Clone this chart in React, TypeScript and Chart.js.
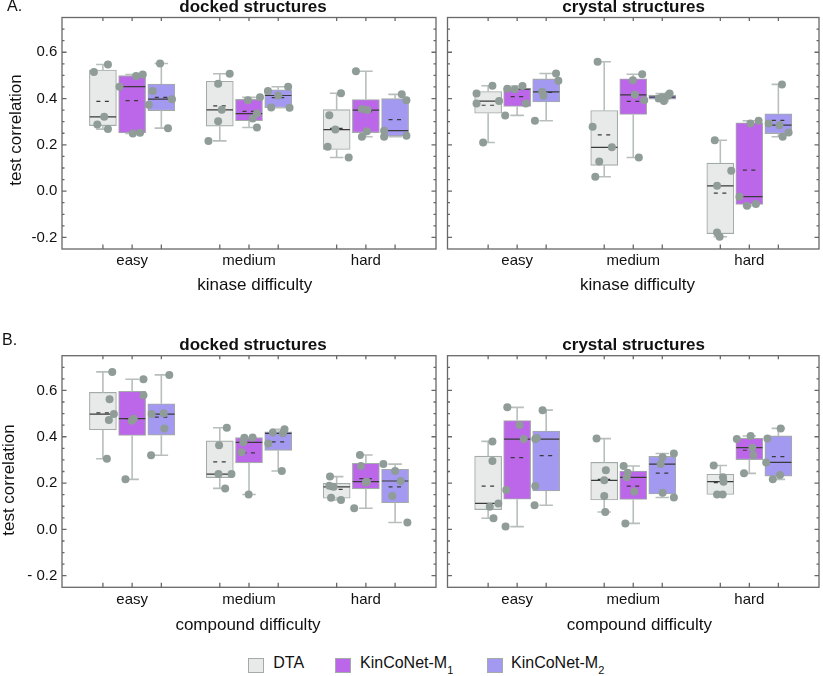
import React, { useEffect, useRef } from 'react';
import { Chart, registerables } from 'chart.js';

Chart.register(...registerables);

const FONT = "'Liberation Sans', Arial, Helvetica, sans-serif";

// ---------- data ----------
const kinaseCategories = ['easy', 'medium', 'hard'];
const compoundCategories = ['easy', 'medium', 'hard'];
const modelNames = ['DTA', 'KinCoNet-M1', 'KinCoNet-M2'];
const modelOffsets = [-0.25, 0, 0.25];
const yTickValues = [-0.2, 0, 0.2, 0.4, 0.6];
const yTickLabelsA = ['-0.2', '0.0', '0.2', '0.4', '0.6'];
const yTickLabelsB = ['- 0.2', '0.0', '0.2', '0.4', '0.6'];

// A. kinase difficulty, docked structures (5 folds per box) [easy, medium, hard]
const kinDockDTA = [[0.515, 0.547, 0.321, 0.288, 0.268], [0.464, 0.507, 0.351, 0.302, 0.217], [0.423, 0.328, 0.266, 0.192, 0.145]];
const kinDockM1 = [[0.451, 0.497, 0.504, 0.249, 0.252], [0.393, 0.405, 0.335, 0.314, 0.275], [0.518, 0.355, 0.350, 0.259, 0.235]];
const kinDockM2 = [[0.551, 0.433, 0.373, 0.397, 0.272], [0.433, 0.451, 0.413, 0.361, 0.360], [0.418, 0.393, 0.261, 0.235, 0.239]];
const kinDockDTAJitter = [[-0.077, 0.043, 0.011, -0.048, 0.043], [-0.014, 0.085, 0.017, -0.014, -0.097], [0.037, -0.063, -0.011, -0.077, 0.103]];
const kinDockM1Jitter = [[-0.108, 0.034, 0.091, 0.006, 0.068], [-0.009, 0.094, 0.068, 0.031, 0.068], [-0.085, -0.034, 0.014, 0.009, -0.034]];
const kinDockM2Jitter = [[-0.011, -0.074, -0.108, 0.091, 0.057], [-0.088, 0.085, 0.0, -0.06, 0.097], [0.057, 0.097, -0.094, -0.094, 0.097]];

// A. kinase difficulty, crystal structures
const kinCryDTA = [[0.455, 0.422, 0.379, 0.389, 0.210], [0.559, 0.278, 0.189, 0.128, 0.062], [0.220, 0.088, 0.023, -0.179, -0.197]];
const kinCryM1 = [[0.442, 0.440, 0.454, 0.327, 0.379], [0.479, 0.505, 0.416, 0.393, 0.145], [0.292, 0.304, -0.024, -0.063, -0.056]];
const kinCryM2 = [[0.508, 0.477, 0.429, 0.412, 0.304], [0.400, 0.422, 0.389, 0.406, 0.412], [0.461, 0.292, 0.285, 0.253, 0.235]];
const kinCryDTAJitter = [[0.037, -0.1, -0.1, 0.094, -0.043], [-0.057, -0.1, 0.066, -0.043, -0.077], [-0.048, 0.094, -0.028, -0.028, -0.006]];
const kinCryM1Jitter = [[-0.085, -0.02, 0.046, -0.103, 0.074], [-0.003, 0.077, 0.014, 0.094, 0.048], [0.009, 0.08, -0.085, -0.02, 0.057]];
const kinCryM2Jitter = [[0.085, 0.105, -0.034, -0.023, -0.097], [-0.031, 0.063, 0.014, -0.003, 0.048], [0.031, -0.083, 0.009, 0.088, 0.037]];

// B. compound difficulty, docked structures
const cmpDockDTA = [[0.680, 0.562, 0.498, 0.472, 0.305], [0.439, 0.363, 0.239, 0.239, 0.177], [0.228, 0.189, 0.184, 0.137, 0.127]];
const cmpDockM1 = [[0.648, 0.579, 0.478, 0.469, 0.216], [0.396, 0.397, 0.376, 0.333, 0.151], [0.321, 0.274, 0.203, 0.206, 0.091]];
const cmpDockM2 = [[0.667, 0.501, 0.498, 0.436, 0.320], [0.432, 0.418, 0.415, 0.371, 0.252], [0.282, 0.252, 0.209, 0.144, 0.030]];
const cmpDockDTAJitter = [[0.08, 0.057, 0.094, 0.051, 0.034], [0.06, -0.006, -0.011, 0.1, 0.046], [-0.057, -0.063, -0.026, -0.048, 0.037]];
const cmpDockM1Jitter = [[0.097, 0.097, 0.014, -0.003, -0.057], [-0.04, 0.031, -0.048, -0.063, -0.003], [-0.051, -0.043, 0.0, 0.009, -0.1]];
const cmpDockM2Jitter = [[0.068, 0.02, -0.083, 0.026, -0.088], [0.054, -0.046, 0.04, -0.085, 0.031], [-0.1, 0.0, 0.048, -0.023, 0.105]];

// B. compound difficulty, crystal structures
const cmpCryDTA = [[0.380, 0.295, 0.112, 0.098, 0.048], [0.392, 0.255, 0.212, 0.144, 0.075], [0.276, 0.225, 0.206, 0.151, 0.151]];
const cmpCryM1 = [[0.527, 0.451, 0.390, 0.170, 0.012], [0.274, 0.245, 0.225, 0.164, 0.026], [0.390, 0.403, 0.353, 0.321, 0.242]];
const cmpCryM2 = [[0.515, 0.390, 0.395, 0.187, 0.104], [0.328, 0.311, 0.282, 0.158, 0.138], [0.436, 0.393, 0.289, 0.235, 0.216]];
const cmpCryDTAJitter = [[0.037, 0.037, 0.088, 0.014, 0.046], [-0.066, 0.014, 0.0, 0.0, 0.009], [-0.057, 0.023, 0.028, -0.028, 0.02]];
const cmpCryM1Jitter = [[-0.085, 0.02, 0.057, -0.094, -0.1], [-0.083, -0.048, -0.057, 0.009, -0.068], [-0.108, 0.011, 0.026, 0.034, -0.046]];
const cmpCryM2Jitter = [[-0.031, -0.094, -0.08, -0.094, -0.1], [0.1, 0.003, -0.014, 0.003, 0.1], [0.02, -0.094, -0.105, 0.014, -0.048]];

// ---------- styles ----------
const fillColors = ['#e7eae8', '#bc66e9', '#a399f1'];
const boxBorder = '#a3aba8';
const whiskerColor = '#b7bebb';
const lineColor = '#3a3a3a';
const pointColor = '#8f9c97';
const frameColor = '#686868';
const BOX_PX = 27;
const HALF = 0.113;
const CAP = 0.058;
const MEAN_HALF = 0.056;

function stats(values: number[]) {
  const s = [...values].sort((a, b) => a - b);
  const n = s.length;
  const quantile = (p: number) => {
    const h = 0.5 + n * p;
    const lo = Math.min(Math.max(Math.floor(h), 1), n);
    const hi = Math.min(lo + 1, n);
    const f = h - Math.floor(h);
    return s[lo - 1] + f * (s[hi - 1] - s[lo - 1]);
  };
  return {
    min: s[0],
    max: s[n - 1],
    q1: quantile(0.25),
    median: quantile(0.5),
    q3: quantile(0.75),
    mean: s.reduce((a, b) => a + b, 0) / n,
  };
}

const framePlugin = {
  id: 'panelFrame',
  afterDatasetsDraw(chart: any) {
    const { ctx, chartArea: a, scales } = chart;
    const xs = scales.x;
    const ys = scales.y;
    const cats: number = chart.options.plugins.panelFrame.categoryCount;
    ctx.save();
    ctx.strokeStyle = frameColor;
    ctx.lineWidth = 1.3;
    ctx.strokeRect(a.left, a.top, a.right - a.left, a.bottom - a.top);
    ctx.beginPath();
    for (let c = 0; c < cats; c++) {
      for (const off of modelOffsets) {
        const px = xs.getPixelForValue(c + 1 + off);
        ctx.moveTo(px, a.bottom);
        ctx.lineTo(px, a.bottom - 4.5);
        ctx.moveTo(px, a.top);
        ctx.lineTo(px, a.top + 3.5);
      }
    }
    for (let k = -4; k <= 14; k++) {
      const v = k * 0.05;
      const major = yTickValues.some((t) => Math.abs(t - v) < 1e-6);
      const len = major ? 4.5 : 2.5;
      const py = ys.getPixelForValue(v);
      ctx.moveTo(a.left, py);
      ctx.lineTo(a.left + len, py);
      ctx.moveTo(a.right, py);
      ctx.lineTo(a.right - len, py);
    }
    ctx.stroke();
    ctx.restore();
  },
};

type PanelProps = {
  left: number;
  top: number;
  width: number;
  height: number;
  padding: { left: number; right: number; top: number; bottom: number };
  yAxisWidth: number | null;
  xAxisHeight: number;
  yTickLabels: string[];
  categories: string[];
  values: number[][][];
  jitter: number[][][];
};

function Panel(p: PanelProps) {
  const ref = useRef<HTMLCanvasElement>(null);
  useEffect(() => {
    if (!ref.current) return;
    const boxDatasets = p.values.map((modelVals, m) => ({
      type: 'bar',
      label: modelNames[m],
      data: modelVals.map((v, c) => {
        const s = stats(v);
        return { x: c + 1 + modelOffsets[m], y: [s.q1, s.q3] };
      }),
      backgroundColor: fillColors[m],
      borderColor: boxBorder,
      borderWidth: 1.1,
      borderSkipped: false,
      barThickness: BOX_PX,
      grouped: false,
      order: 5,
    }));
    const whisk: any[] = [];
    const med: any[] = [];
    const mean: any[] = [];
    const pts: any[] = [];
    p.values.forEach((modelVals, m) =>
      modelVals.forEach((v, c) => {
        const s = stats(v);
        const x = c + 1 + modelOffsets[m];
        whisk.push(
          { x, y: s.min }, { x, y: s.q1 }, { x, y: null },
          { x, y: s.q3 }, { x, y: s.max }, { x, y: null },
          { x: x - CAP, y: s.max }, { x: x + CAP, y: s.max }, { x, y: null },
          { x: x - CAP, y: s.min }, { x: x + CAP, y: s.min }, { x, y: null },
        );
        med.push({ x: x - HALF, y: s.median }, { x: x + HALF, y: s.median }, { x, y: null });
        mean.push({ x: x - MEAN_HALF, y: s.mean }, { x: x + MEAN_HALF, y: s.mean }, { x, y: null });
        v.forEach((y, k) => pts.push({ x: x + p.jitter[m][c][k], y }));
      }),
    );
    const lineBase = { type: 'line', pointRadius: 0, pointHitRadius: 0, fill: false, spanGaps: false, tension: 0 };
    const chart = new Chart(ref.current, {
      type: 'bar',
      data: {
        datasets: [
          ...boxDatasets,
          { ...lineBase, label: 'whiskers', data: whisk, borderColor: whiskerColor, borderWidth: 1.6, order: 4 },
          { ...lineBase, label: 'median', data: med, borderColor: lineColor, borderWidth: 1.2, order: 3 },
          { ...lineBase, label: 'mean', data: mean, borderColor: lineColor, borderWidth: 1.2, borderDash: [4, 4.5], order: 2 },
          {
            type: 'scatter', label: 'folds', data: pts, pointRadius: 4, pointBackgroundColor: pointColor,
            pointBorderWidth: 0, pointBorderColor: pointColor, showLine: false, order: 1,
          },
        ] as any,
      },
      options: {
        responsive: false,
        animation: false,
        devicePixelRatio: 1,
        events: [],
        layout: { padding: p.padding },
        plugins: {
          legend: { display: false },
          tooltip: { enabled: false },
          title: { display: false },
          panelFrame: { categoryCount: p.categories.length },
        } as any,
        scales: {
          x: {
            type: 'linear',
            min: 0.4,
            max: 3.6,
            offset: false,
            grid: { display: false, drawTicks: false },
            border: { display: false },
            ticks: {
              font: { family: FONT, size: 15 },
              color: '#111',
              padding: 3.3,
              maxRotation: 0,
              autoSkip: false,
              callback: (v: any) => p.categories[Math.round(Number(v)) - 1] ?? '',
            },
            afterBuildTicks: (s: any) => {
              s.ticks = p.categories.map((_, i) => ({ value: i + 1 }));
            },
            afterFit: (s: any) => {
              s.height = p.xAxisHeight;
            },
          },
          y: {
            type: 'linear',
            min: -0.25,
            max: 0.75,
            display: p.yAxisWidth !== null,
            grid: { display: false, drawTicks: false },
            border: { display: false },
            ticks: {
              font: { family: FONT, size: 15 },
              color: '#111',
              padding: 4.7,
              callback: (v: any) => {
                const i = yTickValues.findIndex((t) => Math.abs(t - Number(v)) < 1e-6);
                return i >= 0 ? p.yTickLabels[i] : '';
              },
            },
            afterBuildTicks: (s: any) => {
              s.ticks = yTickValues.map((v) => ({ value: v }));
            },
            afterFit: (s: any) => {
              if (p.yAxisWidth !== null) s.width = p.yAxisWidth;
            },
          },
        } as any,
      },
      plugins: [framePlugin],
    });
    return () => chart.destroy();
  }, []);
  return (
    <canvas
      ref={ref}
      width={p.width}
      height={p.height}
      style={{ position: 'absolute', left: p.left, top: p.top, width: p.width, height: p.height }}
    />
  );
}

function Txt(props: { x: number; y: number; size: number; bold?: boolean; center?: boolean; children: any }) {
  const { x, y, size, bold, center, children } = props;
  return (
    <div
      style={{
        position: 'absolute',
        left: x,
        top: y - 0.8465 * size,
        fontSize: size,
        lineHeight: `${size}px`,
        fontWeight: bold ? 'bold' : 'normal',
        fontFamily: FONT,
        color: '#111',
        whiteSpace: 'nowrap',
        transform: center ? 'translateX(-50%)' : undefined,
      }}
    >
      {children}
    </div>
  );
}

function VTxt(props: { cx: number; cy: number; size: number; children: any }) {
  const { cx, cy, size, children } = props;
  return (
    <div
      style={{
        position: 'absolute',
        left: cx,
        top: cy,
        fontSize: size,
        lineHeight: `${size}px`,
        fontFamily: FONT,
        color: '#111',
        whiteSpace: 'nowrap',
        transform: 'translate(-50%, -50%) rotate(-90deg)',
      }}
    >
      {children}
    </div>
  );
}

function LegendItem(props: { boxX: number; textX: number; color: string; name: string; sub?: string }) {
  return (
    <>
      <div
        style={{
          position: 'absolute', left: props.boxX, top: 657.5, width: 15.5, height: 15.5, boxSizing: 'border-box',
          background: props.color, border: `1px solid ${boxBorder}`,
        }}
      />
      <Txt x={props.textX} y={668.3} size={16}>
        {props.name}
        {props.sub ? <span style={{ fontSize: 11, position: 'relative', top: 6.5 }}>{props.sub}</span> : null}
      </Txt>
    </>
  );
}

export default function App() {
  return (
    <div style={{ position: 'absolute', left: 0, top: 0, width: 823, height: 676, background: '#fff', overflow: 'hidden' }}>
      <Panel left={0} top={0} width={440} height={300} padding={{ left: 0, right: 4, top: 17.5, bottom: 0 }}
        yAxisWidth={62} xAxisHeight={51} yTickLabels={yTickLabelsA} categories={kinaseCategories}
        values={[kinDockDTA, kinDockM1, kinDockM2]} jitter={[kinDockDTAJitter, kinDockM1Jitter, kinDockM2Jitter]} />
      <Panel left={440} top={0} width={383} height={300} padding={{ left: 7.5, right: 1, top: 17.5, bottom: 0 }}
        yAxisWidth={null} xAxisHeight={51} yTickLabels={yTickLabelsA} categories={kinaseCategories}
        values={[kinCryDTA, kinCryM1, kinCryM2]} jitter={[kinCryDTAJitter, kinCryM1Jitter, kinCryM2Jitter]} />
      <Panel left={0} top={338} width={440} height={303} padding={{ left: 0, right: 4, top: 17.7, bottom: 0 }}
        yAxisWidth={62} xAxisHeight={53.7} yTickLabels={yTickLabelsB} categories={compoundCategories}
        values={[cmpDockDTA, cmpDockM1, cmpDockM2]} jitter={[cmpDockDTAJitter, cmpDockM1Jitter, cmpDockM2Jitter]} />
      <Panel left={440} top={338} width={383} height={303} padding={{ left: 7.5, right: 1, top: 17.7, bottom: 0 }}
        yAxisWidth={null} xAxisHeight={53.7} yTickLabels={yTickLabelsB} categories={compoundCategories}
        values={[cmpCryDTA, cmpCryM1, cmpCryM2]} jitter={[cmpCryDTAJitter, cmpCryM1Jitter, cmpCryM2Jitter]} />

      <Txt x={7} y={11.7} size={16}>A.</Txt>
      <Txt x={2} y={346} size={16}>B.</Txt>
      <Txt x={253} y={12.7} size={17} bold center>docked structures</Txt>
      <Txt x={633.7} y={12.7} size={17} bold center>crystal structures</Txt>
      <Txt x={253} y={350.7} size={17} bold center>docked structures</Txt>
      <Txt x={633.7} y={350.7} size={17} bold center>crystal structures</Txt>
      <Txt x={254.8} y={290} size={17} center>kinase difficulty</Txt>
      <Txt x={637.5} y={290} size={17} center>kinase difficulty</Txt>
      <Txt x={248} y={630} size={17} center>compound difficulty</Txt>
      <Txt x={639.4} y={630} size={17} center>compound difficulty</Txt>
      <VTxt cx={14.8} cy={130.4} size={17}>test correlation</VTxt>
      <VTxt cx={8.2} cy={479.7} size={17}>test correlation</VTxt>

      <LegendItem boxX={248} textX={273.3} color={fillColors[0]} name="DTA" />
      <LegendItem boxX={335.3} textX={360} color={fillColors[1]} name="KinCoNet-M" sub="1" />
      <LegendItem boxX={487.3} textX={511} color={fillColors[2]} name="KinCoNet-M" sub="2" />
    </div>
  );
}
